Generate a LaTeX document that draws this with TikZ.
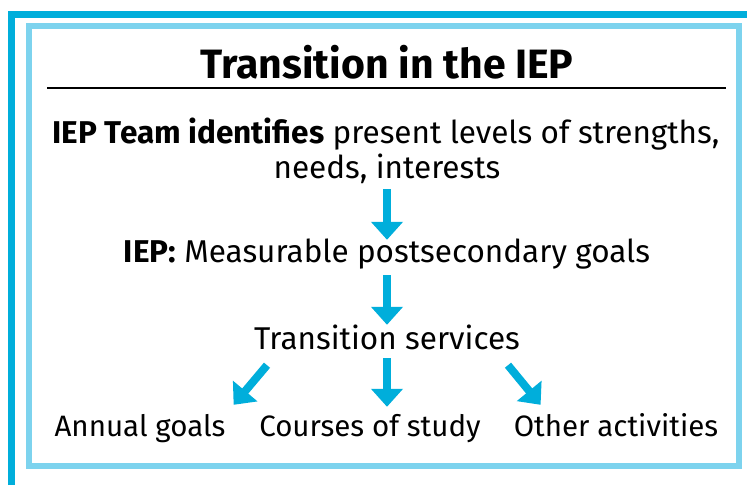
\documentclass[tikz,border=0pt]{standalone}
\usepackage{fontspec}
\setmainfont{Fira Sans}
\usetikzlibrary{positioning, arrows.meta, calc}

\definecolor{framedark}{RGB}{0,174,219}
\definecolor{framelight}{RGB}{125,211,238}
\definecolor{flowblue}{RGB}{0,174,219}

\begin{document}
\begin{tikzpicture}[
    x=1pt, y=-1pt,
    flow/.style={draw=flowblue, line width=8pt, -{Triangle[width=31pt, length=18pt]}},
    headline/.style={anchor=base, inner sep=0pt, font=\fontsize{41}{45}\selectfont\bfseries},
    txt/.style={anchor=base, inner sep=0pt, text height=22pt, text depth=7pt, font=\fontsize{31.5}{37}\selectfont},
    leaf/.style={txt, font=\fontsize{29.5}{35}\selectfont}
]

\useasboundingbox (0,0) rectangle (747,485);

% ================= Frame =================

% Outer dark edge: top and left only
\draw[framedark, line width=7pt] (11.5,485) -- (11.5,14.5) -- (747,14.5);

% Inner light border
\draw[framelight, line width=6pt, fill=white] (29,26) rectangle (739,466);

% ================= Nodes =================

% Heading and its rule
\node[headline] (title) at (387,78) {Transition in the IEP};
\draw[line width=1.5pt] (47,88) -- (726,88);

% Team step (two lines)
\node[txt] (team) at (386,143) {\textbf{IEP Team identifies} present levels of strengths,};
\node[txt] (needs) at (387,178) {needs, interests};

% Goals and services
\node[txt] (goals) at (387,262) {\textbf{IEP:} Measurable postsecondary goals};
\node[txt] (services) at (387,349) {Transition services};

% Bottom row
\node[leaf] (annual) at (140,436) {Annual goals};
\node[leaf] (courses) at (370,436) {Courses of study};
\node[leaf] (other) at (616,436) {Other activities};

% ================= Edges =================

\draw[flow, shorten <=4pt] (needs.south) -- (goals.north);
\draw[flow, shorten <=6pt, shorten >=2pt] (goals.south) -- (goals.south |- services.north);

% Split into the three areas
\draw[flow] ([xshift=-120pt, yshift=-9pt]services.south) -- ([xshift=8pt, yshift=9pt]annual.north east);
\draw[flow, shorten <=2pt, shorten >=7pt] (services.south) -- (services.south |- courses.north);
\draw[flow] ([xshift=121pt, yshift=-9pt]services.south) -- ([xshift=27pt, yshift=9pt]other.north west);

\end{tikzpicture}
\end{document}
